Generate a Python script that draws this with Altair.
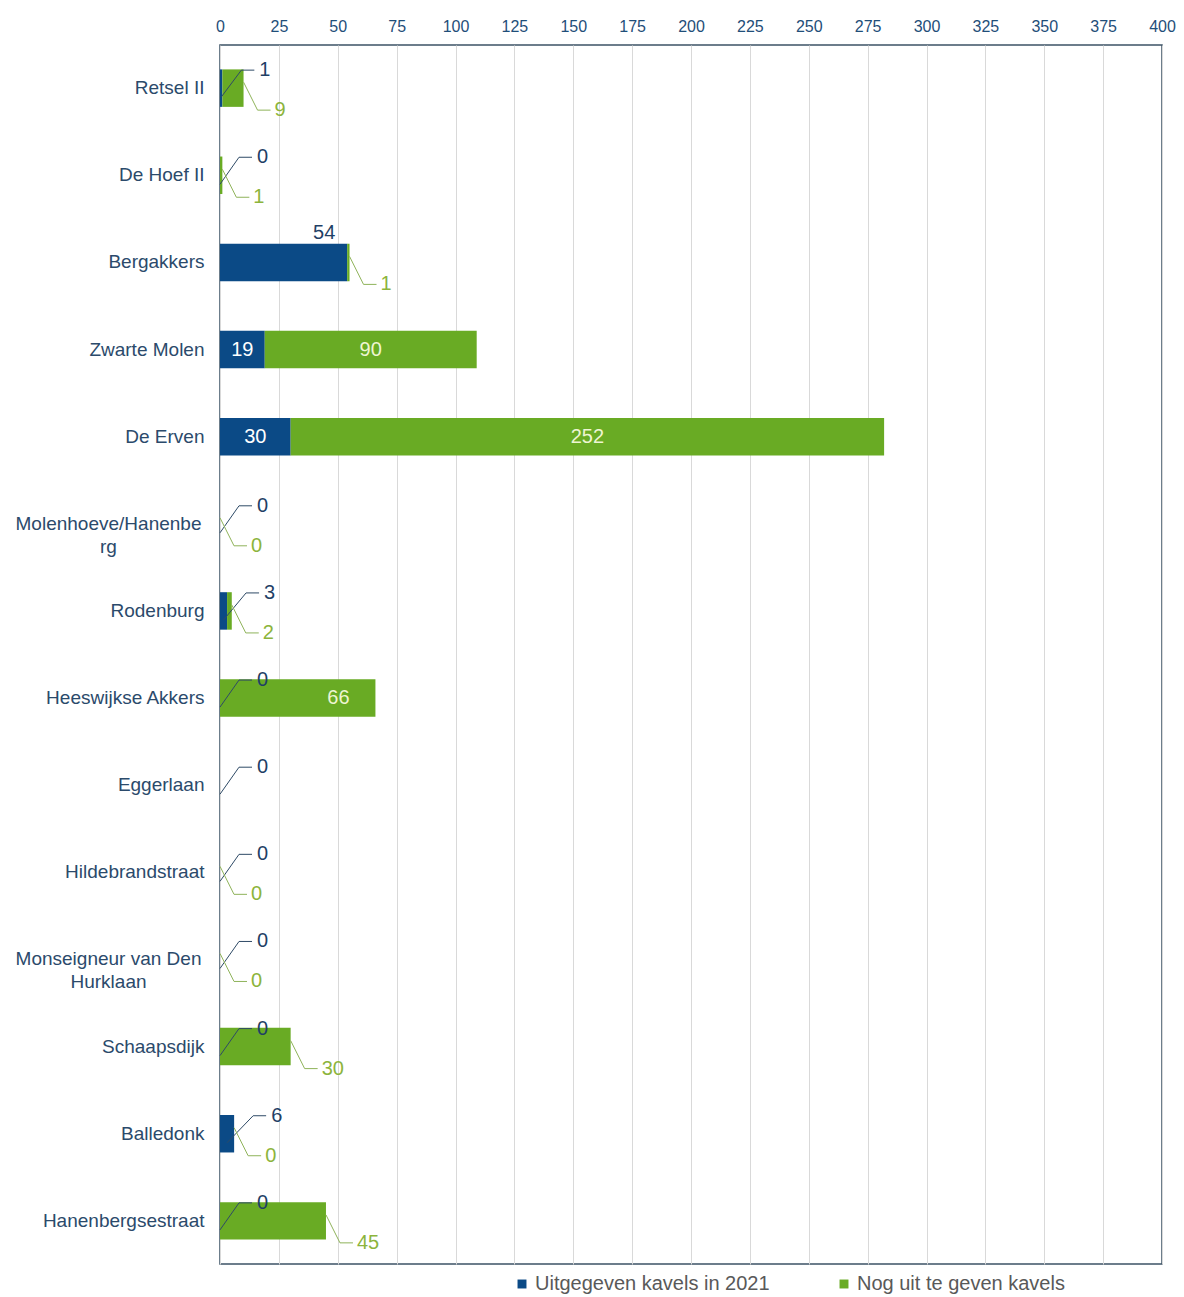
import altair as alt
import pandas as pd

categories = ["Retsel II", "De Hoef II", "Bergakkers", "Zwarte Molen", "De Erven",
              "Molenhoeve/Hanenberg", "Rodenburg", "Heeswijkse Akkers", "Eggerlaan",
              "Hildebrandstraat", "Monseigneur van Den Hurklaan", "Schaapsdijk",
              "Balledonk", "Hanenbergsestraat"]
issued = [1, 0, 54, 19, 30, 0, 3, 0, 0, 0, 0, 0, 6, 0]
remaining = [9, 1, 1, 90, 252, 0, 2, 66, None, 0, 0, 30, 0, 45]
series_names = ["Uitgegeven kavels in 2021", "Nog uit te geven kavels"]
x_ticks = list(range(0, 401, 25))

BLUE = "#0b4a86"
GREEN = "#69ab24"
NAVY_TXT = "#1f3f66"
GREEN_TXT = "#8cb43c"

rows = []
for c, a, b in zip(categories, issued, remaining):
    if 15 <= a < 50:
        kind = "inside"
    elif a >= 50:
        kind = "above"
    else:
        kind = "outside"
    rows.append(dict(cat=c, series=series_names[0], idx=0, value=a,
                     start=0, end=a, mid=a / 2, kind=kind))
    if b is not None:
        if b >= 60:
            kind = "inside" if a > 0 else "inside_end"
        else:
            kind = "outside"
        rows.append(dict(cat=c, series=series_names[1], idx=1, value=b,
                         start=a, end=a + b, mid=a + b / 2, kind=kind))
df = pd.DataFrame(rows)

wrap_test = "indexof(datum.value, 'Molenhoeve') == 0 || indexof(datum.value, 'Monseigneur') == 0"

y_enc = alt.Y("cat:N", sort=categories,
              scale=alt.Scale(paddingInner=0.57, paddingOuter=0.28),
              axis=alt.Axis(
                  title=None, ticks=False, domain=False, grid=False,
                  labelFont="Liberation Sans", labelFontSize=19, labelColor="#2b4a6b",
                  labelLimit=320, labelLineHeight=23, labelBaseline="middle",
                  labelExpr=("datum.value == 'Molenhoeve/Hanenberg' ? ['Molenhoeve/Hanenbe', 'rg'] : "
                             "datum.value == 'Monseigneur van Den Hurklaan' ? ['Monseigneur van Den', 'Hurklaan'] : datum.value"),
                  labelAlign={"condition": {"test": wrap_test, "value": "center"}, "value": "right"},
                  labelPadding={"condition": {"test": wrap_test, "value": 112}, "value": 16}))

x_enc = alt.X("start:Q", scale=alt.Scale(domain=[0, 400], nice=False),
              axis=alt.Axis(title=None, orient="top", values=x_ticks, ticks=False, domain=False,
                            grid=True, gridColor="#d9d9d9", gridWidth=1,
                            labelFont="Liberation Sans", labelFontSize=16, labelColor="#1f4e79",
                            labelPadding=11, labelFlush=False, labelOverlap=False))

base = alt.Chart(df)

bars = base.mark_bar().encode(
    x=x_enc, x2="end:Q", y=y_enc,
    color=alt.Color("series:N", sort=series_names,
                    scale=alt.Scale(domain=series_names, range=[BLUE, GREEN]),
                    legend=alt.Legend(orient="none", legendX=292, legendY=1229, direction="horizontal",
                                      title=None, symbolType="square", symbolSize=80,
                                      symbolStrokeWidth=0, labelFont="Liberation Sans",
                                      labelFontSize=20, labelColor="#595959", columnPadding=64,
                                      labelOffset=3, padding=0, labelLimit=400)),
)

is_blue = f"datum.series == '{series_names[0]}'"
is_green = f"datum.series == '{series_names[1]}'"

txt = dict(font="Liberation Sans", fontSize=20, baseline="middle")
ycat = alt.Y("cat:N", sort=categories)

blue_in = base.transform_filter(f"{is_blue} && datum.kind == 'inside'").mark_text(
    color="white", align="center", **txt).encode(x="mid:Q", y=ycat, text="value:Q")
green_in = base.transform_filter(f"{is_green} && datum.kind == 'inside'").mark_text(
    color="#eef5d2", align="center", **txt).encode(x="mid:Q", y=ycat, text="value:Q")
green_in_end = base.transform_filter(f"{is_green} && datum.kind == 'inside_end'").mark_text(
    color="#eef5d2", align="center", dx=-37, **txt).encode(x="end:Q", y=ycat, text="value:Q")
blue_above = base.transform_filter(f"{is_blue} && datum.kind == 'above'").mark_text(
    color=NAVY_TXT, align="center", dx=-23, dy=-29, **txt).encode(x="end:Q", y=ycat, text="value:Q")
blue_out = base.transform_filter(f"{is_blue} && datum.kind == 'outside'").mark_text(
    color=NAVY_TXT, align="left", dx=37, dy=-18, **txt).encode(x="end:Q", y=ycat, text="value:Q")
green_out = base.transform_filter(f"{is_green} && datum.kind == 'outside'").mark_text(
    color=GREEN_TXT, align="left", dx=31, dy=22, **txt).encode(x="end:Q", y=ycat, text="value:Q")

blue_diag = base.transform_filter(f"{is_blue} && datum.kind == 'outside'").mark_rule(
    color="#2e4a66", strokeWidth=1, yOffset=9, x2Offset=19, y2Offset=-18).encode(
    x="mid:Q", x2="end:Q", y=ycat, y2="cat:N")
blue_hor = base.transform_filter(f"{is_blue} && datum.kind == 'outside'").mark_rule(
    color="#2e4a66", strokeWidth=1, xOffset=19, x2Offset=32, yOffset=-18).encode(
    x="end:Q", x2="end:Q", y=ycat)
green_diag = base.transform_filter(f"{is_green} && datum.kind == 'outside'").mark_rule(
    color="#8fb35a", strokeWidth=1, yOffset=-6, x2Offset=14, y2Offset=22).encode(
    x="end:Q", x2="end:Q", y=ycat, y2="cat:N")
green_hor = base.transform_filter(f"{is_green} && datum.kind == 'outside'").mark_rule(
    color="#8fb35a", strokeWidth=1, xOffset=14, x2Offset=27, yOffset=22).encode(
    x="end:Q", x2="end:Q", y=ycat)

chart = alt.layer(
    bars, blue_diag, blue_hor, green_diag, green_hor,
    blue_in, green_in, green_in_end, blue_above, blue_out, green_out
).properties(
    width=942, height=1219,
    autosize=alt.AutoSizeParams(type="none"),
    padding={"left": 212, "top": 37, "right": 14, "bottom": 31},
    background="white",
).configure_view(
    stroke="#3d5366", strokeWidth=1.5
)

chart.save("out.html", embed_options={"renderer": "svg", "actions": False})
